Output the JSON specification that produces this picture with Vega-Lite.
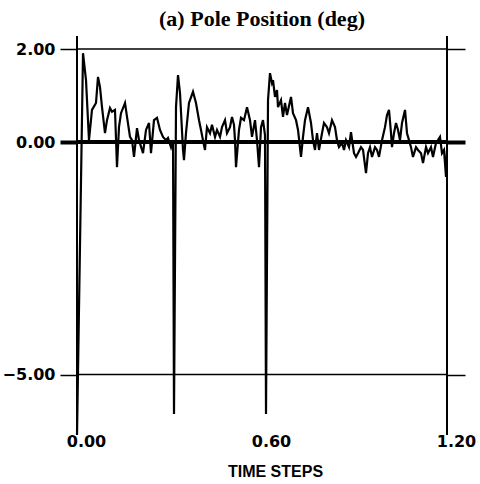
{
  "$schema": "https://vega.github.io/schema/vega-lite/v6.json",
  "width": 370,
  "height": 399,
  "autosize": {"type": "none"},
  "padding": {"left": 77, "top": 36, "right": 33, "bottom": 49},
  "background": "white",
  "config": {"view": {"stroke": null}},
  "title": {"text": "(a) Pole Position  (deg)", "font": "Liberation Serif", "fontSize": 22, "fontWeight": "bold", "color": "black", "anchor": "middle", "offset": 8, "baseline": "alphabetic", "dy": 21},
  "layer": [
    {
      "data": {"values": [{"v": 2}, {"v": 0}, {"v": -5}]},
      "mark": {"type": "rule", "color": "black"},
      "encoding": {
        "y": {"field": "v", "type": "quantitative", "scale": {"domain": [-6.3, 2.28], "nice": false, "zero": false},
          "axis": {"orient": "left", "values": [2, 0, -5], "format": ".2f", "title": null, "grid": false, "domain": false, "tickSize": 17, "tickColor": "black",
            "tickWidth": {"condition": {"test": "datum.value === 0", "value": 4}, "value": 1.5},
            "labelFont": "DejaVu Sans", "labelFontWeight": "bold", "labelFontSize": 16, "labelColor": "black", "labelPadding": 5}},
        "strokeWidth": {"condition": {"test": "datum.v === 0", "value": 4}, "value": 1.5}
      }
    },
    {
      "data": {"values": [
        {"t": 0.0, "v": -6.3}, {"t": 0.0195, "v": 1.91}, {"t": 0.0292, "v": 1.33}, {"t": 0.0389, "v": 0.04}, {"t": 0.0486, "v": 0.69},
        {"t": 0.0616, "v": 0.84}, {"t": 0.0681, "v": 1.4}, {"t": 0.0746, "v": 1.18}, {"t": 0.0811, "v": 0.75}, {"t": 0.0908, "v": 0.19},
        {"t": 0.0973, "v": 0.47}, {"t": 0.107, "v": 0.73}, {"t": 0.1135, "v": 0.65}, {"t": 0.1232, "v": 0.69}, {"t": 0.1297, "v": -0.54},
        {"t": 0.1362, "v": 0.32}, {"t": 0.1427, "v": 0.62}, {"t": 0.1557, "v": 0.84}, {"t": 0.1622, "v": 0.54}, {"t": 0.1719, "v": 0.11},
        {"t": 0.1784, "v": 0.04}, {"t": 0.1849, "v": -0.32}, {"t": 0.1946, "v": 0.3}, {"t": 0.2011, "v": 0.04}, {"t": 0.2141, "v": -0.24},
        {"t": 0.2238, "v": 0.26}, {"t": 0.2335, "v": 0.41}, {"t": 0.24, "v": -0.24}, {"t": 0.2497, "v": 0.47}, {"t": 0.2595, "v": 0.52},
        {"t": 0.2692, "v": 0.26}, {"t": 0.2789, "v": 0.11}, {"t": 0.2886, "v": 0.04}, {"t": 0.2951, "v": 0.09}, {"t": 0.3049, "v": -0.11},
        {"t": 0.3114, "v": 0.04}, {"t": 0.3146, "v": -5.85}, {"t": 0.3211, "v": 0.75}, {"t": 0.3276, "v": 1.44}, {"t": 0.3341, "v": 1.05},
        {"t": 0.3438, "v": -0.17}, {"t": 0.347, "v": -0.39}, {"t": 0.3535, "v": 0.19}, {"t": 0.3632, "v": 0.84}, {"t": 0.3762, "v": 1.08},
        {"t": 0.3859, "v": 0.84}, {"t": 0.3957, "v": 0.47}, {"t": 0.4022, "v": 0.26}, {"t": 0.4086, "v": 0.04}, {"t": 0.4151, "v": -0.17},
        {"t": 0.4216, "v": 0.32}, {"t": 0.4314, "v": 0.19}, {"t": 0.4378, "v": 0.37}, {"t": 0.4476, "v": 0.11}, {"t": 0.4541, "v": 0.26},
        {"t": 0.4638, "v": 0.11}, {"t": 0.4703, "v": 0.32}, {"t": 0.48, "v": 0.47}, {"t": 0.4865, "v": 0.19}, {"t": 0.4962, "v": 0.32},
        {"t": 0.5027, "v": 0.54}, {"t": 0.5092, "v": 0.37}, {"t": 0.5124, "v": 0.04}, {"t": 0.5157, "v": -0.54}, {"t": 0.5254, "v": 0.26},
        {"t": 0.5319, "v": 0.52}, {"t": 0.5416, "v": 0.47}, {"t": 0.5514, "v": 0.75}, {"t": 0.5611, "v": 0.47}, {"t": 0.5676, "v": 0.11},
        {"t": 0.5773, "v": 0.47}, {"t": 0.5838, "v": 0.04}, {"t": 0.5903, "v": -0.54}, {"t": 0.5968, "v": 0.32}, {"t": 0.6032, "v": 0.47},
        {"t": 0.6097, "v": 0.15}, {"t": 0.613, "v": -5.85}, {"t": 0.6195, "v": 0.9}, {"t": 0.6259, "v": 1.48}, {"t": 0.6324, "v": 1.27},
        {"t": 0.6357, "v": 1.33}, {"t": 0.6422, "v": 0.97}, {"t": 0.6486, "v": 1.12}, {"t": 0.6519, "v": 0.75}, {"t": 0.6616, "v": 0.9},
        {"t": 0.6681, "v": 0.54}, {"t": 0.6746, "v": 0.84}, {"t": 0.6811, "v": 0.58}, {"t": 0.6941, "v": 0.97}, {"t": 0.7005, "v": 0.62},
        {"t": 0.7103, "v": 0.47}, {"t": 0.7168, "v": 0.26}, {"t": 0.7265, "v": -0.32}, {"t": 0.733, "v": 0.11}, {"t": 0.7395, "v": 0.47},
        {"t": 0.7492, "v": 0.75}, {"t": 0.7589, "v": 0.41}, {"t": 0.7654, "v": 0.04}, {"t": 0.7719, "v": -0.17}, {"t": 0.7784, "v": 0.19},
        {"t": 0.7849, "v": -0.17}, {"t": 0.7946, "v": 0.19}, {"t": 0.8011, "v": 0.41}, {"t": 0.8108, "v": 0.32}, {"t": 0.8173, "v": 0.19},
        {"t": 0.827, "v": 0.47}, {"t": 0.8368, "v": 0.32}, {"t": 0.8432, "v": 0.04}, {"t": 0.8497, "v": -0.11}, {"t": 0.8595, "v": -0.02},
        {"t": 0.8659, "v": -0.17}, {"t": 0.8724, "v": 0.04}, {"t": 0.8822, "v": -0.11}, {"t": 0.8886, "v": 0.21}, {"t": 0.8984, "v": -0.24},
        {"t": 0.9049, "v": -0.32}, {"t": 0.9114, "v": -0.24}, {"t": 0.9211, "v": -0.11}, {"t": 0.9276, "v": -0.17}, {"t": 0.9373, "v": -0.67},
        {"t": 0.9438, "v": -0.24}, {"t": 0.9503, "v": -0.11}, {"t": 0.9568, "v": -0.32}, {"t": 0.9665, "v": -0.11}, {"t": 0.973, "v": -0.17},
        {"t": 0.9795, "v": -0.32}, {"t": 0.9892, "v": 0.04}, {"t": 0.9989, "v": 0.32}, {"t": 1.0054, "v": 0.58}, {"t": 1.0119, "v": 0.69},
        {"t": 1.0184, "v": 0.19}, {"t": 1.0216, "v": -0.11}, {"t": 1.0281, "v": 0.19}, {"t": 1.0346, "v": 0.41}, {"t": 1.0411, "v": 0.26},
        {"t": 1.0476, "v": 0.04}, {"t": 1.0541, "v": 0.41}, {"t": 1.0638, "v": 0.69}, {"t": 1.0703, "v": 0.19}, {"t": 1.0768, "v": 0.04},
        {"t": 1.0832, "v": -0.11}, {"t": 1.0897, "v": -0.32}, {"t": 1.0995, "v": -0.11}, {"t": 1.1059, "v": -0.17}, {"t": 1.1157, "v": -0.24},
        {"t": 1.1222, "v": -0.45}, {"t": 1.1319, "v": -0.11}, {"t": 1.1384, "v": -0.24}, {"t": 1.1481, "v": -0.11}, {"t": 1.1546, "v": -0.32},
        {"t": 1.1643, "v": -0.02}, {"t": 1.1708, "v": 0.04}, {"t": 1.1773, "v": 0.11}, {"t": 1.1838, "v": -0.24}, {"t": 1.1903, "v": -0.17},
        {"t": 1.1968, "v": -0.75}, {"t": 1.2, "v": -0.17}
      ]},
      "mark": {"type": "line", "color": "black", "strokeWidth": 2.2},
      "encoding": {
        "x": {"field": "t", "type": "quantitative", "scale": {"domain": [0, 1.2], "nice": false, "zero": false},
          "axis": {"values": [0, 0.6, 1.2], "format": ".2f", "ticks": false, "domain": false, "grid": false, "labelFlush": false,
            "labelFont": "DejaVu Sans", "labelFontWeight": "bold", "labelFontSize": 16, "labelColor": "black", "labelOffset": 9, "labelPadding": -2,
            "title": "TIME STEPS", "titleFont": "Liberation Sans", "titleFontSize": 16, "titleFontWeight": "bold", "titleColor": "black",
            "titleX": 198, "titleY": 28, "titleBaseline": "top", "titleAlign": "center"}},
        "y": {"field": "v", "type": "quantitative", "scale": {"domain": [-6.3, 2.28], "nice": false, "zero": false},
          "axis": {"orient": "right", "values": [2, 0, -5], "labels": false, "title": null, "grid": false, "domain": false, "tickSize": 18, "tickColor": "black",
            "tickWidth": {"condition": {"test": "datum.value === 0", "value": 4}, "value": 1.5}}}
      }
    },
    {
      "data": {"values": [{"t": 0}, {"t": 1.2}]},
      "mark": {"type": "rule", "color": "black", "strokeWidth": 2},
      "encoding": {
        "x": {"field": "t", "type": "quantitative", "scale": {"domain": [0, 1.2], "nice": false, "zero": false},
          "axis": {"values": [0, 0.6, 1.2], "format": ".2f", "ticks": false, "domain": false, "grid": false, "labelFlush": false,
            "labelFont": "DejaVu Sans", "labelFontWeight": "bold", "labelFontSize": 16, "labelColor": "black", "labelOffset": 9, "labelPadding": -2,
            "title": "TIME STEPS", "titleFont": "Liberation Sans", "titleFontSize": 16, "titleFontWeight": "bold", "titleColor": "black",
            "titleX": 198, "titleY": 28, "titleBaseline": "top", "titleAlign": "center"}}
      }
    }
  ],
  "resolve": {"axis": {"y": "independent"}}
}
